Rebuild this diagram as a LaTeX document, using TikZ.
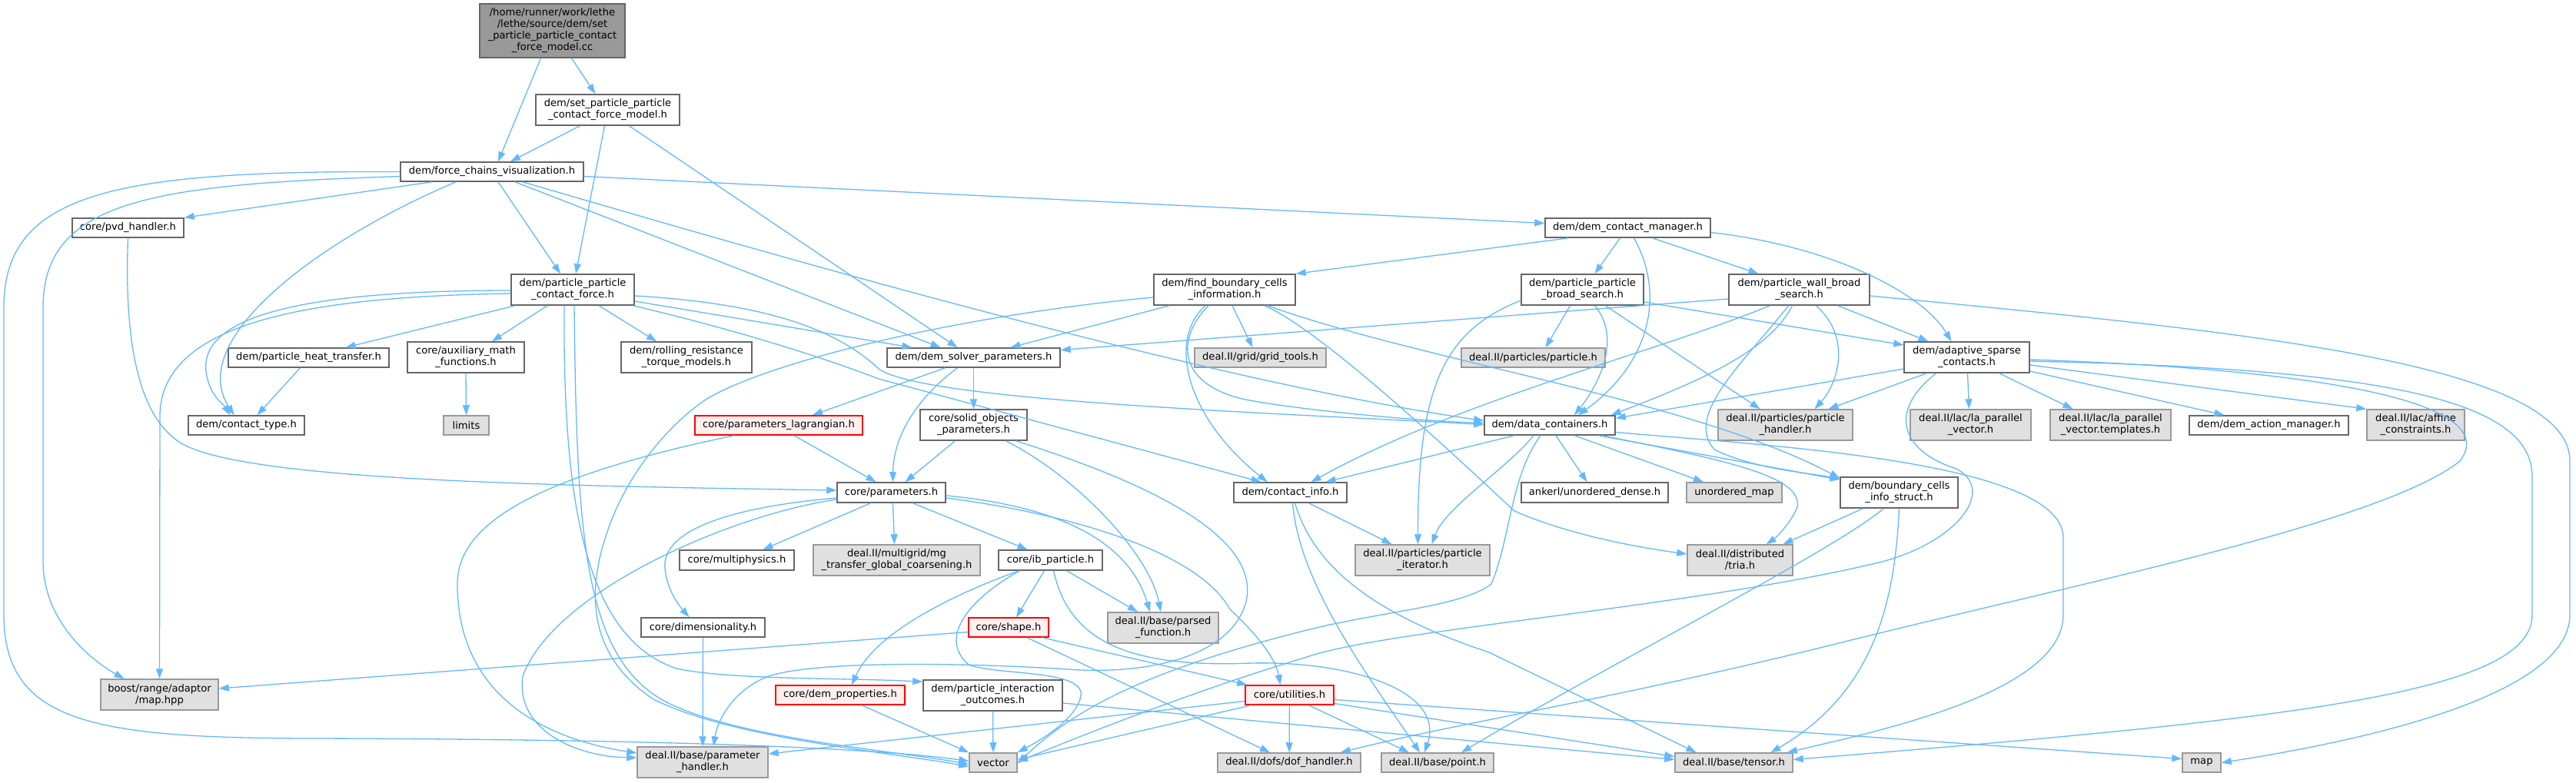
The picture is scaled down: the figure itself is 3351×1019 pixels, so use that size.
\documentclass[tikz,border=0pt]{standalone}
\usepackage{fontspec}
\setmainfont{DejaVu Sans}
\usetikzlibrary{arrows.meta}
\definecolor{edgec}{HTML}{63B8FF}
\definecolor{extfill}{HTML}{E0E0E0}
\definecolor{extdraw}{HTML}{999999}
\definecolor{normdraw}{HTML}{666666}
\definecolor{redfill}{HTML}{FFF0F0}
\definecolor{reddraw}{HTML}{FF0000}
\definecolor{mainfill}{HTML}{999999}
\newcommand{\nf}{\fontsize{13.1}{15}\selectfont}
\newcommand{\nd}[7]{\node[#6, minimum width={(#4-#2)*1pt}, minimum height={(#5-#3)*1pt}] (#1) at ({(#2+#4)/2},{(#3+#5)/2}) {#7};}
\tikzset{
 gbase/.style={line width=1.5pt, inner sep=0pt, align=center, font=\nf, text=black},
 gnorm/.style={gbase, draw=normdraw, fill=white},
 gext/.style={gbase, draw=extdraw, fill=extfill},
 gred/.style={gbase, draw=reddraw, fill=redfill},
 gmain/.style={gbase, draw=normdraw, fill=mainfill},
 e/.style={draw=edgec, line width=1.3pt, -{Triangle[length=13pt,width=9pt]}}
}
\begin{document}
\begin{tikzpicture}[x=1pt,y=-1pt]
\useasboundingbox (0,0) rectangle (3351,1019);
% nodes
\nd{main}{624}{5}{813}{75}{gmain}{/home/runner/work/lethe\\/lethe/source/dem/set\\\_particle\_particle\_contact\\\_force\_model.cc}
\nd{setpp}{697}{123}{884}{163}{gnorm}{dem/set\_particle\_particle\\\_contact\_force\_model.h}
\nd{fcv}{521}{211}{759}{236}{gnorm}{dem/force\_chains\_visualization.h}
\nd{pvd}{94}{284}{239}{309}{gnorm}{core/pvd\_handler.h}
\nd{dcm}{2010}{284}{2225}{309}{gnorm}{dem/dem\_contact\_manager.h}
\nd{ppcf}{665}{357}{825}{397}{gnorm}{dem/particle\_particle\\\_contact\_force.h}
\nd{fbci}{1501}{357}{1685}{397}{gnorm}{dem/find\_boundary\_cells\\\_information.h}
\nd{ppbs}{1979}{357}{2138}{397}{gnorm}{dem/particle\_particle\\\_broad\_search.h}
\nd{pwbs}{2249}{357}{2432}{397}{gnorm}{dem/particle\_wall\_broad\\\_search.h}
\nd{pht}{297}{453}{506}{478}{gnorm}{dem/particle\_heat\_transfer.h}
\nd{aux}{530}{445}{682}{485}{gnorm}{core/auxiliary\_math\\\_functions.h}
\nd{roll}{808}{445}{978}{485}{gnorm}{dem/rolling\_resistance\\\_torque\_models.h}
\nd{dsp}{1154}{453}{1379}{478}{gnorm}{dem/dem\_solver\_parameters.h}
\nd{grid}{1554}{453}{1725}{478}{gext}{deal.II/grid/grid\_tools.h}
\nd{ptcl}{1901}{453}{2088}{478}{gext}{deal.II/particles/particle.h}
\nd{asc}{2477}{445}{2640}{485}{gnorm}{dem/adaptive\_sparse\\\_contacts.h}
\nd{ctype}{245}{541}{396}{566}{gnorm}{dem/contact\_type.h}
\nd{limits}{577}{541}{636}{566}{gext}{limits}
\nd{plag}{904}{541}{1122}{566}{gred}{core/parameters\_lagrangian.h}
\nd{solid}{1197}{533}{1336}{573}{gnorm}{core/solid\_objects\\\_parameters.h}
\nd{dc}{1931}{541}{2101}{566}{gnorm}{dem/data\_containers.h}
\nd{phdl}{2235}{533}{2410}{573}{gext}{deal.II/particles/particle\\\_handler.h}
\nd{lavec}{2485}{533}{2642}{573}{gext}{deal.II/lac/la\_parallel\\\_vector.h}
\nd{latpl}{2667}{533}{2824}{573}{gext}{deal.II/lac/la\_parallel\\\_vector.templates.h}
\nd{dam}{2848}{541}{3055}{566}{gnorm}{dem/dem\_action\_manager.h}
\nd{affine}{3079}{533}{3206}{573}{gext}{deal.II/lac/affine\\\_constraints.h}
\nd{params}{1089}{628}{1230}{654}{gnorm}{core/parameters.h}
\nd{cinfo}{1605}{628}{1752}{654}{gnorm}{dem/contact\_info.h}
\nd{ankerl}{1979}{628}{2170}{654}{gnorm}{ankerl/unordered\_dense.h}
\nd{umap}{2194}{628}{2318}{654}{gext}{unordered\_map}
\nd{bcis}{2394}{621}{2547}{661}{gnorm}{dem/boundary\_cells\\\_info\_struct.h}
\nd{mphys}{884}{716}{1033}{742}{gnorm}{core/multiphysics.h}
\nd{mg}{1058}{709}{1275}{749}{gext}{deal.II/multigrid/mg\\\_transfer\_global\_coarsening.h}
\nd{ib}{1299}{716}{1434}{742}{gnorm}{core/ib\_particle.h}
\nd{piter}{1763}{709}{1938}{749}{gext}{deal.II/particles/particle\\\_iterator.h}
\nd{tria}{2195}{709}{2332}{749}{gext}{deal.II/distributed\\/tria.h}
\nd{dimen}{834}{804}{995}{829}{gnorm}{core/dimensionality.h}
\nd{shape}{1260}{804}{1364}{829}{gred}{core/shape.h}
\nd{parsed}{1441}{797}{1585}{837}{gext}{deal.II/base/parsed\\\_function.h}
\nd{boost}{131}{884}{284}{924}{gext}{boost/range/adaptor\\/map.hpp}
\nd{dprop}{1009}{892}{1177}{917}{gred}{core/dem\_properties.h}
\nd{pio}{1201}{885}{1382}{925}{gnorm}{dem/particle\_interaction\\\_outcomes.h}
\nd{util}{1620}{892}{1735}{917}{gred}{core/utilities.h}
\nd{phand}{829}{972}{999}{1012}{gext}{deal.II/base/parameter\\\_handler.h}
\nd{vec}{1261}{980}{1323}{1005}{gext}{vector}
\nd{dof}{1584}{980}{1770}{1005}{gext}{deal.II/dofs/dof\_handler.h}
\nd{point}{1797}{980}{1943}{1005}{gext}{deal.II/base/point.h}
\nd{tensor}{2179}{980}{2332}{1005}{gext}{deal.II/base/tensor.h}
\nd{map}{2839}{980}{2889}{1005}{gext}{map}
% edges
\draw[e] ([xshift=-15pt]main.south) -- ([xshift=8pt]fcv.north);
\draw[e] ([xshift=25pt]main.south) -- ([xshift=-16pt]setpp.north);
\draw[e] ([xshift=-36pt]setpp.south) -- ([xshift=24pt]fcv.north);
\draw[e] ([xshift=-4pt]setpp.south) -- ([xshift=4pt]ppcf.north);
\draw[e] ([xshift=28pt]setpp.south) -- ([xshift=-21pt]dsp.north);
\draw[e] ([xshift=-78pt]fcv.south) -- (pvd.north east);
\draw[e] ([xshift=-47pt]fcv.south) .. controls (420,310) and (240,440) .. ([xshift=-16pt]ctype.north);
\draw[e] ([xshift=8pt]fcv.south) -- ([xshift=-16pt]ppcf.north);
\draw[e] ([xshift=30pt]fcv.south) -- ([xshift=-43pt]dsp.north);
\draw[e] ([xshift=40pt]fcv.south) .. controls (1100,360) and (1600,500) .. ([yshift=6pt]dc.west);
\draw[e] ([yshift=-6pt]fcv.east) -- ([yshift=6pt]dcm.west);
\draw[e] ([yshift=-6pt]fcv.west) .. controls (200,240) and (56,260) .. (56,400) -- (56,730) .. controls (56,810) and (120,860) .. ([xshift=-46pt]boost.north);
\draw[e] ([yshift=0pt]fcv.west) .. controls (150,222) and (5,250) .. (5,400) -- (5,800) .. controls (5,940) and (120,960) .. (400,961) .. controls (900,962) and (1150,975) .. ([yshift=2pt]vec.west);
\draw[e] (pvd.south) .. controls (162,430) and (175,540) .. (236,577) .. controls (320,625) and (700,632) .. ([yshift=3pt]params.west);
\draw[e] ([xshift=-75pt]ppcf.south) -- ([xshift=48pt]pht.north);
\draw[e] ([xshift=-33pt]ppcf.south) -- ([xshift=34pt]aux.north);
\draw[e] ([xshift=34pt]ppcf.south) -- ([xshift=-39pt]roll.north);
\draw[e] ([yshift=-15pt]ppcf.east) -- ([xshift=-80pt]dsp.north);
\draw[e] ([yshift=-1pt]ppcf.west) .. controls (400,378) and (260,410) .. (268,483) .. controls (272,515) and (290,525) .. ([xshift=-21pt]ctype.north);
\draw[e] ([yshift=-5pt]ppcf.west) .. controls (400,386) and (210,420) .. (208,540) -- (boost.north);
\draw[e] ([xshift=-11pt]ppcf.south) .. controls (732,650) and (760,830) .. (880,870) .. controls (950,885) and (1100,882) .. ([yshift=-3pt]pio.north west);
\draw[e] ([xshift=2pt]ppcf.south) .. controls (750,700) and (760,850) .. (860,910) .. controls (950,960) and (1150,975) .. ([yshift=-2pt]vec.west);
\draw[e] ([yshift=-8pt]ppcf.east) .. controls (1000,395) and (1090,430) .. (1143,480) .. controls (1200,520) and (1600,535) .. ([yshift=1pt]dc.west);
\draw[e] ([xshift=-2pt]ppcf.south east) .. controls (960,430) and (1070,465) .. (1143,493) -- ([xshift=-38pt]cinfo.north);
\draw[e] ([xshift=-11pt]pht.south) -- ([xshift=14pt]ctype.north);
\draw[e] (aux.south) -- (limits.north);
\draw[e] ([xshift=-37pt]dsp.south) -- ([xshift=44pt]plag.north);
\draw[e] ([xshift=-21pt]dsp.south) .. controls (1190,520) and (1162,570) .. ([xshift=2pt]params.north);
\draw[e] (dsp.south) -- (solid.north);
\draw[e] ([xshift=20pt]plag.south) -- ([xshift=-20pt]params.north);
\draw[e] ([xshift=-58pt]plag.south) .. controls (700,620) and (595,680) .. (595,760) .. controls (595,900) and (700,960) .. ([yshift=12pt]phand.west);
\draw[e] ([xshift=-24pt]solid.south) -- ([xshift=18pt]params.north);
\draw[e] ([xshift=42pt]solid.south) .. controls (1400,620) and (1495,720) .. ([xshift=-3pt]parsed.north);
\draw[e] ([xshift=55pt]solid.south) .. controls (1500,630) and (1640,700) .. (1621,783) .. controls (1600,860) and (1480,878) .. (1389,871) .. controls (1250,862) and (1060,860) .. (1000,880) .. controls (960,895) and (935,930) .. ([xshift=14pt]phand.north);
\draw[e] ([xshift=-27pt]params.south) -- ([xshift=34pt]mphys.north);
\draw[e] ([xshift=2pt]params.south) -- ([xshift=-3pt]mg.north);
\draw[e] ([xshift=28pt]params.south) -- ([xshift=-30pt]ib.north);
\draw[e] ([yshift=-7pt]params.west) .. controls (950,660) and (860,690) .. (865,740) .. controls (868,770) and (885,790) .. ([xshift=-18pt]dimen.north);
\draw[e] ([yshift=-9pt]params.west) .. controls (950,670) and (720,770) .. (680,880) .. controls (670,950) and (750,985) .. ([yshift=6pt]phand.west);
\draw[e] ([yshift=-4pt]params.east) .. controls (1389,660) and (1470,710) .. ([xshift=-17pt]parsed.north);
\draw[e] ([yshift=-7pt]params.east) .. controls (1400,670) and (1560,720) .. (1600,793) .. controls (1640,830) and (1660,860) .. ([xshift=-12pt]util.north);
\draw[e] ([xshift=-8pt]ib.south) -- ([xshift=10pt]shape.north);
\draw[e] ([xshift=21pt]ib.south) -- ([xshift=-33pt]parsed.north);
\draw[e] ([xshift=-41pt]ib.south) .. controls (1250,770) and (1140,820) .. ([xshift=15pt]dprop.north);
\draw[e] ([xshift=4pt]ib.south) .. controls (1390,830) and (1460,870) .. (1628,863) .. controls (1760,860) and (1880,900) .. ([xshift=-17pt]point.north);
\draw[e] ([xshift=-40pt]ib.south) .. controls (1260,780) and (1220,830) .. (1260,865) .. controls (1300,880) and (1420,870) .. (1405,910) .. controls (1395,940) and (1350,965) .. (vec.north east);
\draw[e] ([yshift=-6pt]shape.west) -- ([yshift=8pt]boost.east);
\draw[e] ([xshift=24pt]shape.south) -- ([xshift=-25pt]dof.north);
\draw[e] ([xshift=44pt]shape.south) -- ([xshift=3pt]util.north west);
\draw[e] ([xshift=28pt]dprop.south) -- (vec.north west);
\draw[e] (pio) -- (vec);
\draw[e] ([yshift=-10pt]pio.east) -- ([yshift=4pt]tensor.west);
\draw[e] (dimen) -- (phand);
\draw[e] ([yshift=-8pt]util.west) -- ([yshift=11pt]phand.east);
\draw[e] ([xshift=-50pt]util.south) -- ([yshift=4pt]vec.east);
\draw[e] (util) -- (dof);
\draw[e] ([xshift=25pt]util.south) -- ([xshift=-37pt]point.north);
\draw[e] ([yshift=-11pt]util.east) -- ([yshift=8pt]tensor.west);
\draw[e] ([yshift=-6pt]util.east) -- ([yshift=5pt]map.west);
\draw[e] ([xshift=24pt]cinfo.south) -- ([xshift=-40pt]piter.north);
\draw[e] ([xshift=3pt]cinfo.south) .. controls (1690,760) and (1780,880) .. ([xshift=-23pt]point.north);
\draw[e] ([xshift=6pt]cinfo.south) .. controls (1710,740) and (1790,800) .. (1937,849) -- ([xshift=-49pt]tensor.north);
\draw[e] ([xshift=-46pt]dc.south) -- ([xshift=46pt]cinfo.north);
\draw[e] ([xshift=-21pt]dc.south) .. controls (1960,610) and (1880,660) .. ([xshift=12pt]piter.north);
\draw[e] ([xshift=-12pt]dc.south) .. controls (1965,620) and (1965,700) .. (1940,760) .. controls (1900,790) and (1800,795) .. (1700,820) .. controls (1500,870) and (1400,920) .. ([yshift=-1pt]vec.east);
\draw[e] ([xshift=8pt]dc.south) -- ([xshift=-10pt]ankerl.north);
\draw[e] ([xshift=32pt]dc.south) -- ([xshift=-40pt]umap.north);
\draw[e] ([xshift=63pt]dc.south) -- ([yshift=-4pt]bcis.north west);
\draw[e] ([xshift=68pt]dc.south) .. controls (2250,600) and (2345,620) .. (2338,660) .. controls (2330,680) and (2310,700) .. ([xshift=34pt]tria.north);
\draw[e] ([yshift=-9pt]dc.east) .. controls (2300,580) and (2684,600) .. (2684,700) -- (2684,800) .. controls (2684,900) and (2450,950) .. ([xshift=-8pt]tensor.north east);
\draw[e] ([xshift=-77pt]dcm.south) -- (fbci.north east);
\draw[e] ([xshift=-10pt]dcm.south) -- ([xshift=16pt]ppbs.north);
\draw[e] ([xshift=8pt]dcm.south) .. controls (2165,380) and (2150,470) .. ([xshift=37pt]dc.north);
\draw[e] ([xshift=32pt]dcm.south) -- ([xshift=-53pt]pwbs.north);
\draw[e] ([yshift=-6pt]dcm.east) .. controls (2380,320) and (2500,380) .. ([xshift=-20pt]asc.north);
\draw[e] ([yshift=-10pt]fbci.west) .. controls (1250,410) and (1000,470) .. (918,520) .. controls (860,560) and (820,620) .. (800,666) .. controls (760,760) and (760,850) .. (850,910) .. controls (950,960) and (1150,978) .. ([yshift=-5pt]vec.west);
\draw[e] ([xshift=-72pt]fbci.south) -- ([xshift=48pt]dsp.north);
\draw[e] ([xshift=-25pt]fbci.south) .. controls (1520,440) and (1540,540) .. ([xshift=-30pt]cinfo.north);
\draw[e] ([xshift=-21pt]fbci.south) .. controls (1530,440) and (1530,500) .. (1620,520) .. controls (1700,535) and (1850,548) .. ([yshift=3pt]dc.west);
\draw[e] ([xshift=10pt]fbci.south) -- ([xshift=-10pt]grid.north);
\draw[e] ([xshift=52pt]fbci.south) .. controls (1720,430) and (1900,600) .. (1970,665) .. controls (2050,700) and (2150,715) .. ([yshift=8pt]tria.west);
\draw[e] ([xshift=56pt]fbci.south) .. controls (1850,470) and (2200,520) .. ([yshift=-2pt]bcis.north west);
\draw[e] ([yshift=-14pt]ppbs.west) .. controls (1880,430) and (1844,500) .. ([xshift=-6pt]piter.north);
\draw[e] ([xshift=-16pt]ppbs.south) -- ([xshift=16pt]ptcl.north);
\draw[e] ([xshift=16pt]ppbs.south) .. controls (2110,440) and (2080,500) .. ([xshift=32pt]dc.north);
\draw[e] ([xshift=30pt]ppbs.south) -- ([xshift=-33pt]phdl.north);
\draw[e] ([yshift=-16pt]ppbs.east) -- ([yshift=16pt]asc.west);
\draw[e] ([yshift=-12pt]pwbs.west) -- ([yshift=10pt]dsp.east);
\draw[e] ([xshift=-38pt]pwbs.south) .. controls (2150,460) and (1900,520) .. ([xshift=27pt]cinfo.north);
\draw[e] ([xshift=-9pt]pwbs.south) .. controls (2300,460) and (2200,500) .. ([xshift=-6pt]dc.north east);
\draw[e] ([xshift=-14pt]pwbs.south) .. controls (2270,470) and (2190,540) .. (2230,585) .. controls (2280,610) and (2350,615) .. ([yshift=-3pt]bcis.north west);
\draw[e] ([xshift=22pt]pwbs.south) .. controls (2410,440) and (2390,500) .. ([xshift=38pt]phdl.north);
\draw[e] ([xshift=50pt]pwbs.south) -- ([xshift=-50pt]asc.north);
\draw[e] ([yshift=-8pt]pwbs.east) .. controls (2900,430) and (3343,470) .. (3343,600) -- (3343,800) .. controls (3343,900) and (3100,960) .. (map.east);
\draw[e] ([yshift=-15pt]asc.west) -- ([yshift=-4pt]dc.north east);
\draw[e] ([xshift=-52pt]asc.south) -- ([xshift=56pt]phdl.north);
\draw[e] ([xshift=-40pt]asc.south) .. controls (2450,540) and (2480,590) .. (2545,610) .. controls (2600,640) and (2540,710) .. (2440,733) .. controls (2200,790) and (1800,820) .. (1700,855) .. controls (1550,900) and (1400,960) .. ([yshift=1pt]vec.east);
\draw[e] ([xshift=1pt]asc.south) -- ([xshift=-2pt]lavec.north);
\draw[e] ([xshift=42pt]asc.south) -- ([xshift=-49pt]latpl.north);
\draw[e] ([yshift=-18pt]asc.east) -- ([xshift=-58pt]dam.north);
\draw[e] ([yshift=-10pt]asc.east) -- (affine.north west);
\draw[e] ([yshift=-3pt]asc.east) .. controls (3000,480) and (3260,520) .. (3200,600) .. controls (3100,680) and (2700,760) .. (2400,835) .. controls (2100,910) and (1900,940) .. ([xshift=-27pt]dof.north east);
\draw[e] ([yshift=-5pt]asc.east) .. controls (3100,480) and (3294,520) .. (3294,620) -- (3294,800) .. controls (3294,900) and (3000,935) .. ([yshift=4pt]tensor.east);
\draw[e] ([xshift=-47pt]bcis.south) -- ([xshift=56pt]tria.north);
\draw[e] ([xshift=-20pt]bcis.south) .. controls (2380,720) and (2100,860) .. ([xshift=31pt]point.north);
\draw[e] (bcis.south) .. controls (2465,780) and (2440,900) .. ([xshift=48pt]tensor.north);
\end{tikzpicture}
\end{document}
